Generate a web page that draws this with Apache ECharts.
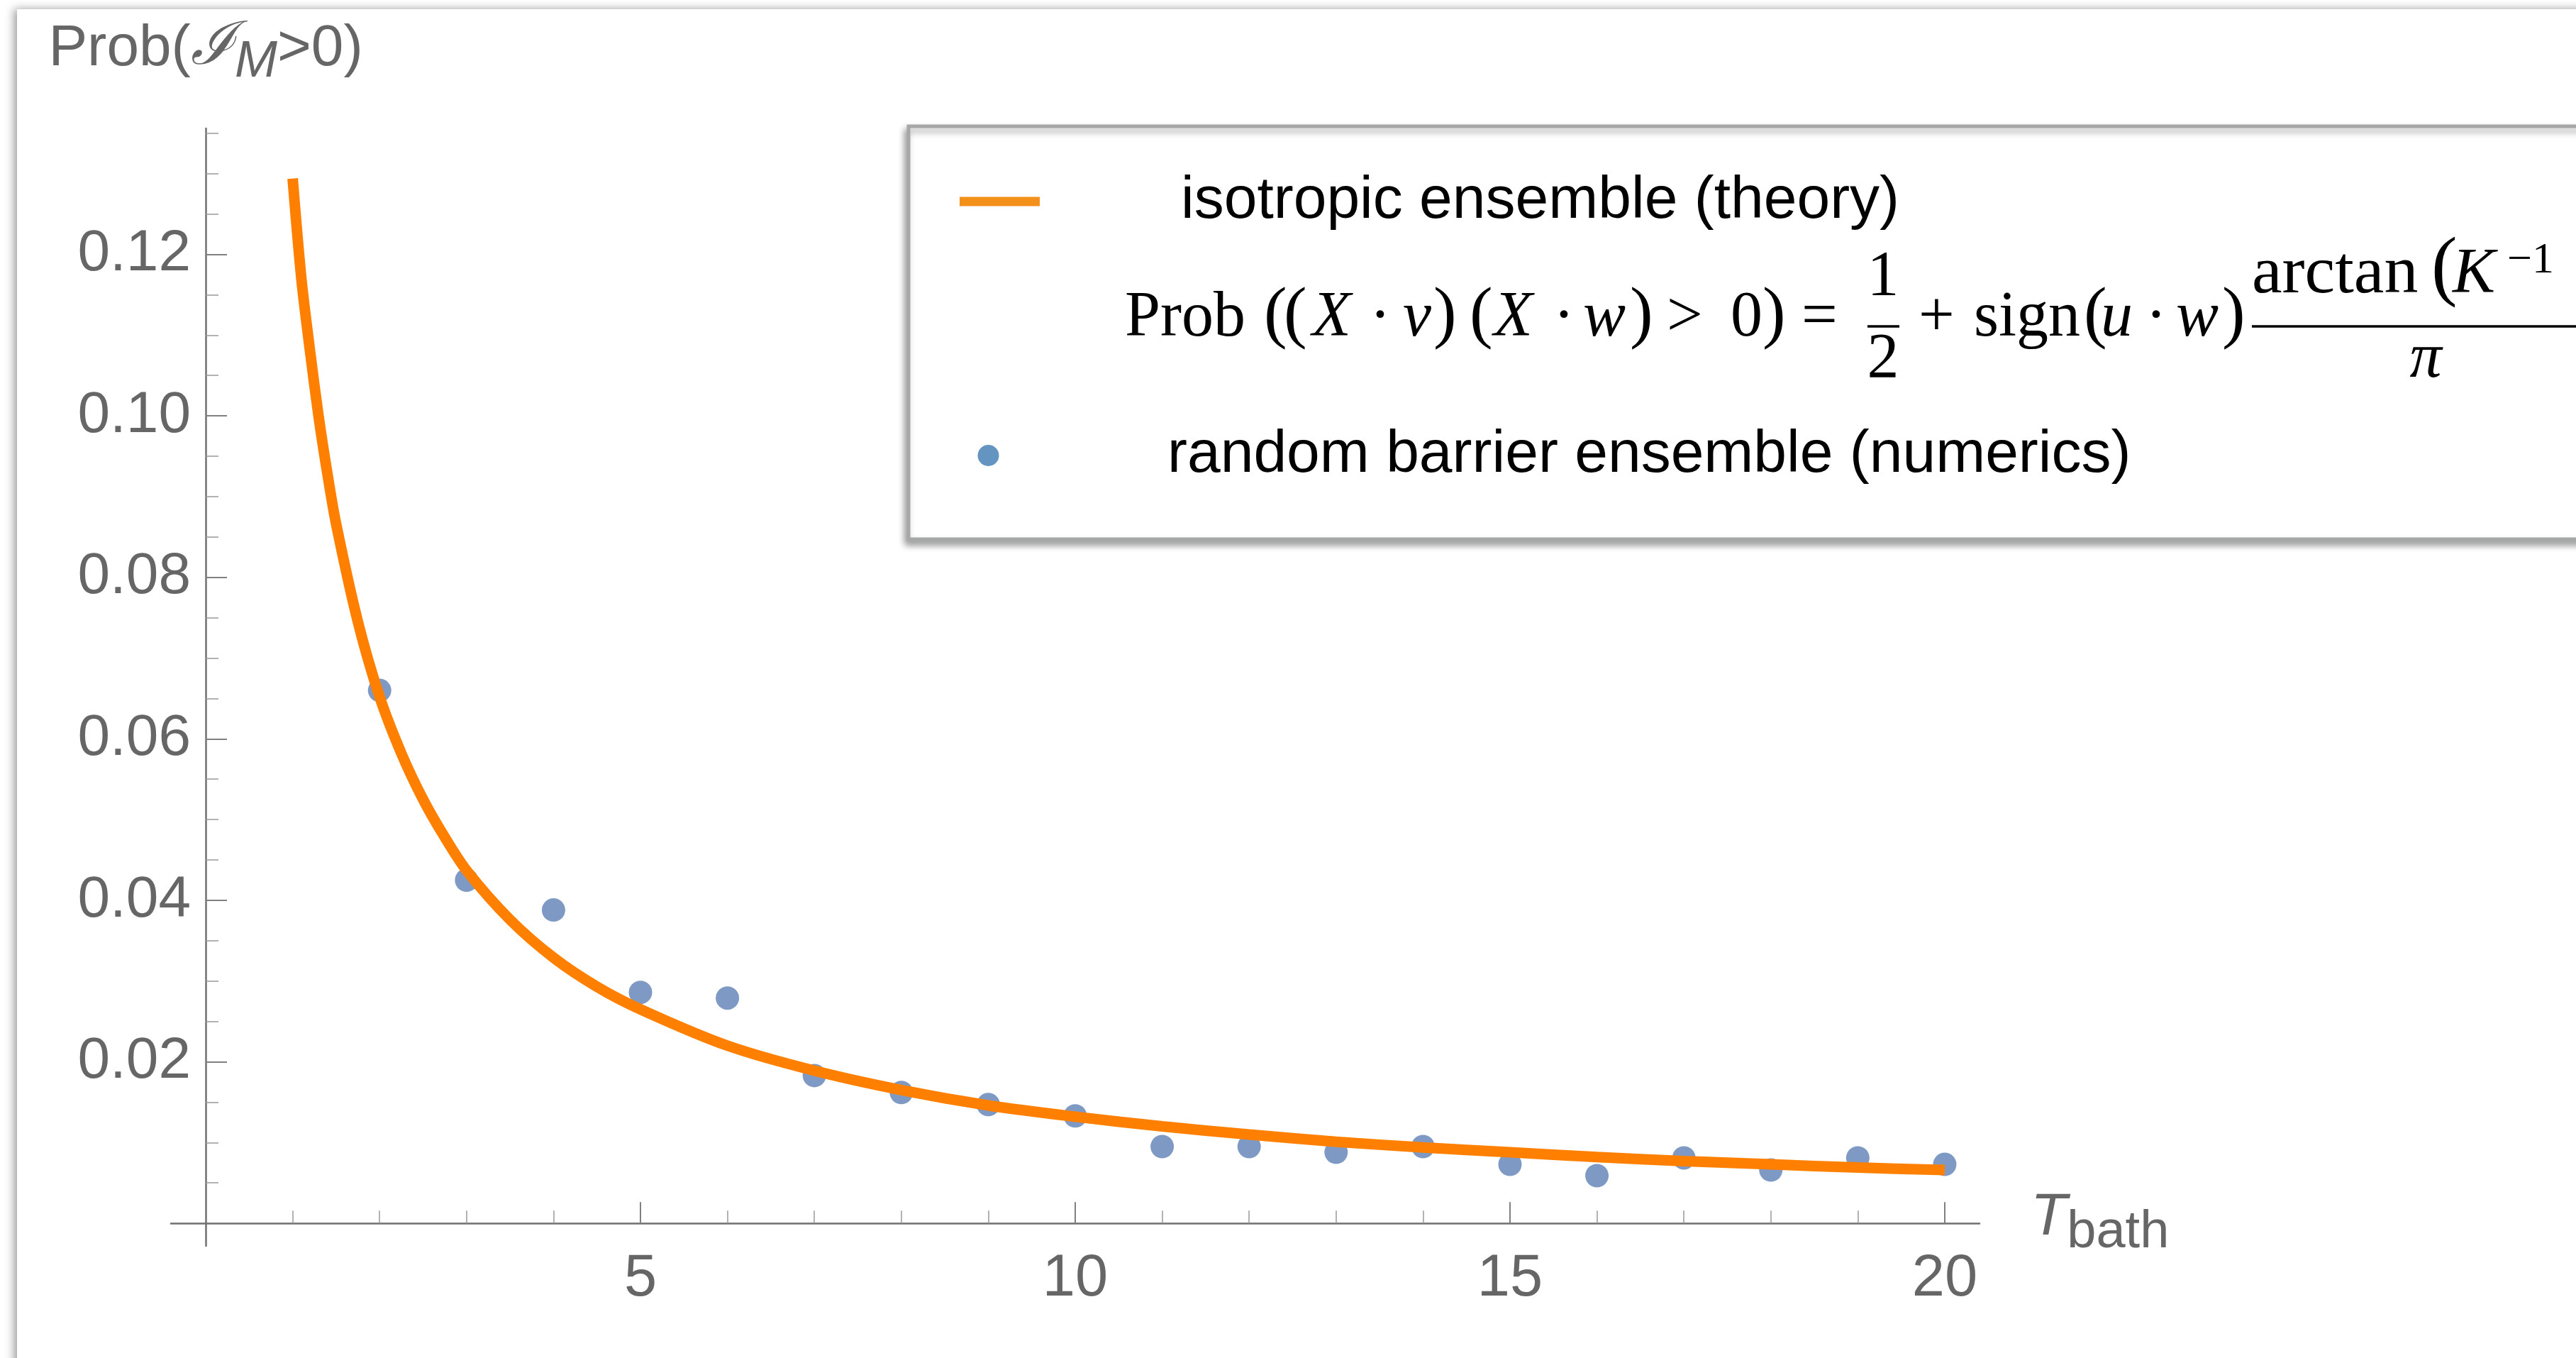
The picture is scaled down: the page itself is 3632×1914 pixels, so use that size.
<!DOCTYPE html>
<html>
<head>
<meta charset="utf-8">
<script src="https://cdn.jsdelivr.net/npm/echarts/dist/echarts.min.js"></script>
<style>
html,body{margin:0;padding:0;background:#fff;}
#chart{width:3632px;height:1914px;}
</style>
</head>
<body>
<div id="chart"></div>
<script>
// ---------- data ----------
const seriesNames = ['isotropic ensemble (theory)', 'random barrier ensemble (numerics)'];
// numerics (points)
const tBathNumerics = [2, 3, 4, 5, 6, 7, 8, 9, 10, 11, 12, 13, 14, 15, 16, 17, 18, 19, 20];
const probNumerics = [0.0660, 0.0425, 0.0388, 0.0286, 0.0279, 0.0183, 0.0162, 0.0147, 0.0133, 0.0095,
                      0.0095, 0.0088, 0.0095, 0.0073, 0.0059, 0.0081, 0.0066, 0.0081, 0.0073];
// theory curve
const tBathTheory = [1, 1.1, 1.2, 1.3, 1.4, 1.5, 1.75, 2, 2.25, 2.5, 2.75, 3, 3.5, 4, 4.5, 5, 6, 7, 8, 9,
                     10, 11, 12, 13, 14, 15, 16, 17, 18, 19, 20];
const probTheory = [0.1294, 0.1170, 0.1080, 0.0998, 0.0928, 0.0866, 0.0745, 0.0652, 0.0582, 0.0525, 0.0478,
                    0.0437, 0.0376, 0.0329, 0.0293, 0.0265, 0.0220, 0.0189, 0.0165, 0.0146,
                    0.0132, 0.0120, 0.0110, 0.0101, 0.0094, 0.0088, 0.0082, 0.0077, 0.0073, 0.0069, 0.0066];
// ticks
const xMajorTicks = [5, 10, 15, 20];
const xMinorTicks = [1, 2, 3, 4, 6, 7, 8, 9, 11, 12, 13, 14, 16, 17, 18, 19];
const yMajorTicks = [0.02, 0.04, 0.06, 0.08, 0.10, 0.12];
const yMinorTicks = [0.005, 0.010, 0.015, 0.025, 0.030, 0.035, 0.045, 0.050, 0.055, 0.065, 0.070, 0.075,
                     0.085, 0.090, 0.095, 0.105, 0.110, 0.115, 0.125, 0.130, 0.135];
const xRange = [-0.4, 20.4];
const yRange = [-0.0028, 0.1356];

// ---------- styles ----------
const SANS = 'Liberation Sans, Arial, Helvetica, sans-serif';
const SERIF = 'Liberation Serif, Times New Roman, serif';
const GRAY = '#666666';
const AXIS = '#707070';

const theoryData = tBathTheory.map((x, i) => [x, probTheory[i]]);
const numericsData = tBathNumerics.map((x, i) => [x, probNumerics[i]]);

// formula pieces in the legend (annotation text)
const FS = 90;
function ft(text, x, baseline, o) {
  o = o || {};
  const size = o.size || FS;
  return {
    type: 'text', x: x, y: baseline - 0.34 * size, z: 100, silent: true,
    style: {
      text: text, fontSize: size, fontFamily: SERIF,
      fontStyle: o.italic ? 'italic' : 'normal',
      fill: '#000', align: o.align || 'left', verticalAlign: 'middle'
    }
  };
}
function bar(x1, x2, y) {
  return { type: 'line', z: 100, silent: true, shape: { x1: x1, y1: y, x2: x2, y2: y },
           style: { stroke: '#000', lineWidth: 3.5 } };
}
const formula = [
  ft('Prob', 1586, 480),
  ft('(', 1782, 480, { size: 98 }),
  ft('(', 1810, 480, { size: 98 }),
  ft('X', 1850, 480, { italic: true }),
  ft('·', 1946, 480, { align: 'center' }),
  ft('v', 1978, 480, { italic: true }),
  ft(')', 2021, 480, { size: 98 }),
  ft('(', 2072, 480, { size: 98 }),
  ft('X', 2106, 480, { italic: true }),
  ft('·', 2205, 480, { align: 'center' }),
  ft('w', 2232, 480, { italic: true }),
  ft(')', 2298, 480, { size: 98 }),
  ft('>', 2350, 480),
  ft('0', 2440, 480),
  ft(')', 2485, 480, { size: 98 }),
  ft('=', 2540, 480),
  ft('1', 2655, 423, { align: 'center' }),
  bar(2633, 2678, 460),
  ft('2', 2655, 539, { align: 'center' }),
  ft('+', 2705, 480),
  ft('sign', 2783, 480),
  ft('(', 2938, 480, { size: 98 }),
  ft('u', 2962, 480, { italic: true }),
  ft('·', 3040, 480, { align: 'center' }),
  ft('w', 3068, 480, { italic: true }),
  ft(')', 3133, 480, { size: 98 }),
  ft('arctan', 3175, 419, { size: 96 }),
  ft('(', 3428, 419, { size: 110 }),
  ft('K', 3458, 419, { italic: true }),
  ft('\u22121', 3535, 389, { size: 62 }),
  bar(3175, 3700, 460),
  ft('\u03C0', 3420, 538, { italic: true, align: 'center' })
];

const chart = echarts.init(document.getElementById('chart'), null, { renderer: 'canvas' });
chart.setOption({
  backgroundColor: '#ffffff',
  animation: false,
  grid: { left: 241, top: 181, width: 2550, height: 1575, containLabel: false },
  xAxis: [{
    type: 'value', min: xRange[0], max: xRange[1], position: 'bottom',
    axisLine: { show: true, onZero: true, onZeroAxisIndex: 0, lineStyle: { color: AXIS, width: 2.5 } },
    axisTick: { show: true, inside: true, length: 30, customValues: xMajorTicks, lineStyle: { color: '#808080', width: 2 } },
    axisLabel: { show: true, customValues: xMajorTicks, margin: 6, fontSize: 83, color: GRAY, fontFamily: SANS,
                 formatter: v => String(v) },
    splitLine: { show: false },
    name: '{t|T}{s|bath}', nameLocation: 'end', nameGap: 72,
    nameTextStyle: {
      align: 'left', verticalAlign: 'middle', color: GRAY,
      rich: {
        t: { fontSize: 84, fontStyle: 'italic', fontFamily: SANS, color: GRAY, verticalAlign: 'bottom', padding: [0, 0, 16, 0] },
        s: { fontSize: 74, fontFamily: SANS, color: GRAY, verticalAlign: 'bottom' }
      }
    }
  }, {
    type: 'value', min: xRange[0], max: xRange[1], position: 'bottom',
    axisLine: { show: false, onZero: true, onZeroAxisIndex: 0 },
    axisTick: { show: true, inside: true, length: 18, customValues: xMinorTicks, lineStyle: { color: '#999999', width: 1.5 } },
    axisLabel: { show: false },
    splitLine: { show: false }
  }],
  yAxis: [{
    type: 'value', min: yRange[0], max: yRange[1], position: 'left',
    axisLine: { show: true, onZero: true, onZeroAxisIndex: 0, lineStyle: { color: AXIS, width: 2.5 } },
    axisTick: { show: true, inside: true, length: 30, customValues: yMajorTicks, lineStyle: { color: '#808080', width: 2 } },
    axisLabel: { show: true, customValues: yMajorTicks, margin: -28, fontSize: 82, color: GRAY, fontFamily: SANS,
                 formatter: v => v.toFixed(2) },
    splitLine: { show: false },
    name: '{p|Prob(}{c|\u2110}{m|M}{p|>0)}', nameLocation: 'end', nameGap: 57,
    nameTextStyle: {
      align: 'center', verticalAlign: 'bottom', color: GRAY,
      rich: {
        p: { fontSize: 82, fontFamily: SANS, color: GRAY, verticalAlign: 'bottom', padding: [0, 0, 14, 0] },
        c: { fontSize: 84, fontFamily: 'DejaVu Serif, serif', fontStyle: 'italic', color: GRAY, verticalAlign: 'bottom', padding: [0, 0, 14, 0] },
        m: { fontSize: 72, fontFamily: SANS, fontStyle: 'italic', color: GRAY, verticalAlign: 'bottom' }
      }
    }
  }, {
    type: 'value', min: yRange[0], max: yRange[1], position: 'left',
    axisLine: { show: false, onZero: true, onZeroAxisIndex: 0 },
    axisTick: { show: true, inside: true, length: 18, customValues: yMinorTicks, lineStyle: { color: '#999999', width: 1.5 } },
    axisLabel: { show: false },
    splitLine: { show: false }
  }],
  legend: {
    orient: 'vertical', left: 1281, top: 178,
    padding: [64, 700, 76, 72],
    itemGap: 274, itemWidth: 113, itemHeight: 30,
    backgroundColor: '#ffffff', borderColor: '#a5a8a6', borderWidth: 5,
    shadowBlur: 10, shadowColor: 'rgba(0,0,0,0.35)', shadowOffsetX: -3, shadowOffsetY: 6,
    selectedMode: false,
    textStyle: { fontSize: 84, color: '#000', fontFamily: SANS },
    data: [
      { name: seriesNames[0], icon: 'path://M0,0H113V13H0Z', itemStyle: { color: '#f39019' },
        textStyle: { padding: [0, 0, 0, 194] } },
      { name: seriesNames[1], icon: 'path://M0,15A15,15,0,1,1,30,15A15,15,0,1,1,0,15ZM62,0L62,0Z', itemStyle: { color: '#3d7ab2' },
        textStyle: { padding: [0, 0, 0, 175] } }
    ]
  },
  graphic: [
    { type: 'rect', z: -10, silent: true, shape: { x: 24, y: 13, width: 3700, height: 2000 },
      style: { fill: '#ffffff', shadowBlur: 12, shadowColor: 'rgba(0,0,0,0.4)', shadowOffsetX: -4, shadowOffsetY: 0 } }
  ].concat(formula),
  series: [{
    name: seriesNames[1], type: 'scatter', xAxisIndex: 0, yAxisIndex: 0, z: 2,
    symbol: 'circle', symbolSize: 33,
    itemStyle: { color: '#5e81b5' },
    data: numericsData
  }, {
    name: seriesNames[0], type: 'line', xAxisIndex: 0, yAxisIndex: 0, z: 3,
    smooth: 0.3, showSymbol: false, symbol: 'none',
    lineStyle: { color: '#ff8000', width: 15, cap: 'butt' },
    itemStyle: { color: '#ff8000' },
    data: theoryData
  }]
});
</script>
</body>
</html>
